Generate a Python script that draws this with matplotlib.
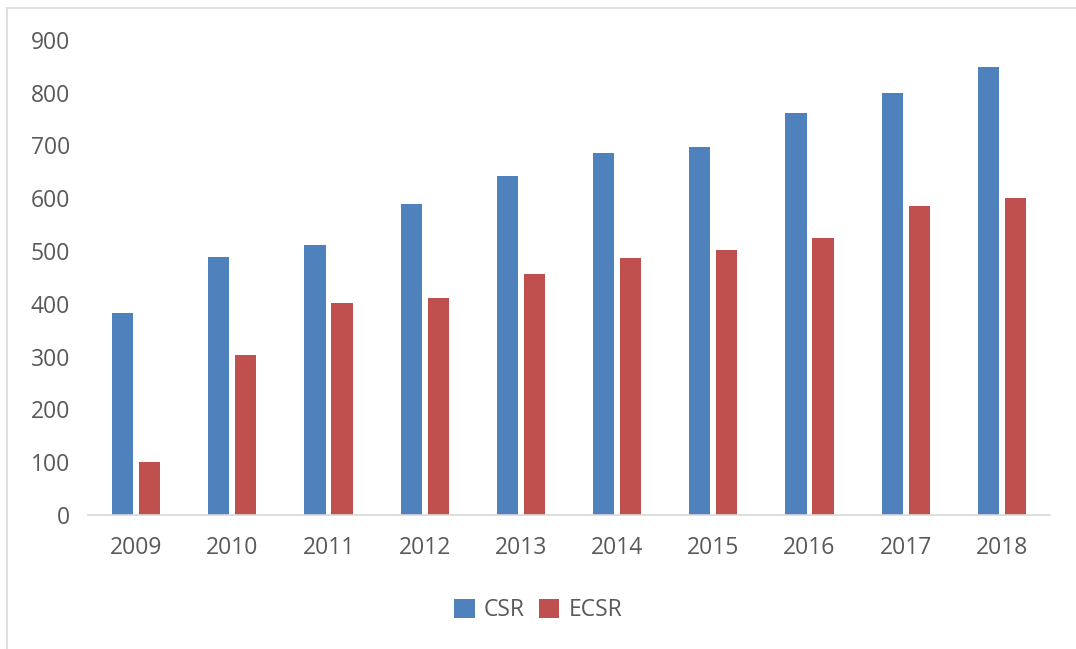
import matplotlib.pyplot as plt
import numpy as np
from matplotlib.patches import Rectangle

years = ["2009", "2010", "2011", "2012", "2013", "2014", "2015", "2016", "2017", "2018"]
csr = [382, 489, 511, 589, 642, 686, 697, 761, 799, 848]
ecsr = [100, 303, 401, 411, 456, 487, 502, 525, 585, 600]

plt.rcParams['font.family'] = ['Open Sans', 'DejaVu Sans']
blue = "#4F81BD"
red = "#C0504D"
grey = "#595959"

fig = plt.figure(figsize=(10.76, 6.49), dpi=100)
ax = fig.add_axes([0.0818, 0.2065, 0.894, 0.732])

x = np.arange(len(years))
w = 0.22
gap = 0.06
ax.bar(x - (w + gap) / 2, csr, w, color=blue, label="CSR")
ax.bar(x + (w + gap) / 2, ecsr, w, color=red, label="ECSR")

ax.set_xlim(-0.5, len(years) - 0.5)
ax.set_ylim(0, 900)
ax.set_yticks(range(0, 901, 100))
ax.set_xticks(x)
ax.set_xticklabels(years)
ax.tick_params(axis="both", length=0, labelsize=16.5, colors=grey)
ax.tick_params(axis="x", pad=15)
ax.tick_params(axis="y", pad=13)
for s in ["top", "right", "left"]:
    ax.spines[s].set_visible(False)
ax.spines["bottom"].set_color("#D9D9D9")
ax.spines["bottom"].set_linewidth(1.2)

leg = fig.legend(loc="center", bbox_to_anchor=(0.5, 0.06), ncol=2, frameon=False,
                 fontsize=16.5, handlelength=0.9, handleheight=0.9, handletextpad=0.4,
                 columnspacing=0.6)
for t in leg.get_texts():
    t.set_color(grey)

# outer chart border
fig.patches.append(Rectangle((0.0065, -0.01), 1.0, 0.998, transform=fig.transFigure,
                             fill=False, edgecolor="#D9D9D9", linewidth=1.2))

fig.savefig("out.png", dpi=100)
